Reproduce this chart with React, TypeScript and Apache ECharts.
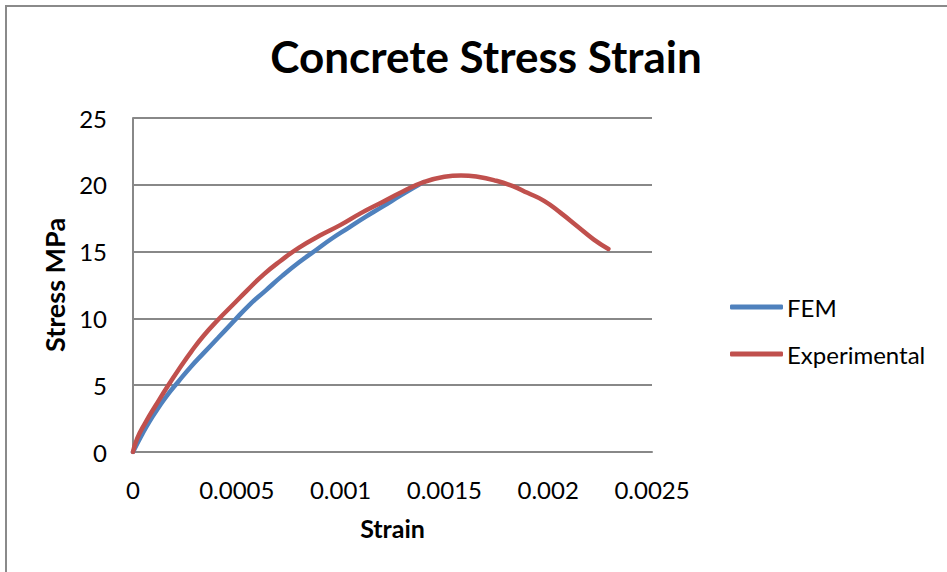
import React, { useEffect, useRef } from "react";
import * as echarts from "echarts";

// Strain (mm/mm) vs stress (MPa) for the finite-element model
const femStrain = [0, 0.00004, 0.00008, 0.00012, 0.00016, 0.00022, 0.00028, 0.00034, 0.00041, 0.00048, 0.00056, 0.00064, 0.00072, 0.0008, 0.00088, 0.00096, 0.00104, 0.00112, 0.0012, 0.0013, 0.0014];
const femStress = [0, 1.2, 2.3, 3.25, 4.15, 5.3, 6.4, 7.4, 8.55, 9.7, 11.0, 12.1, 13.2, 14.2, 15.1, 16.0, 16.8, 17.6, 18.35, 19.3, 20.2];

// Measured test curve
const expStrain = [0, 0.00002, 0.00006, 0.00011, 0.00017, 0.00023, 0.00028, 0.00034, 0.00041, 0.00048, 0.00055, 0.00063, 0.00071, 0.0008, 0.0009, 0.001, 0.0011, 0.0012, 0.0013, 0.0014, 0.0015, 0.00158, 0.00166, 0.00175, 0.00183, 0.0019, 0.00198, 0.00206, 0.00214, 0.00222, 0.00229];
const expStress = [0, 1.0, 2.2, 3.5, 5.0, 6.4, 7.5, 8.7, 9.9, 11.0, 12.1, 13.3, 14.3, 15.3, 16.2, 17.0, 17.9, 18.7, 19.5, 20.2, 20.6, 20.7, 20.6, 20.3, 19.9, 19.4, 18.8, 17.9, 16.9, 15.9, 15.2];

const xTicks = [0, 0.0005, 0.001, 0.0015, 0.002, 0.0025];
const yTicks = [0, 5, 10, 15, 20, 25];

const FONT = "Lato, 'Noto Sans', sans-serif";
const GRID_COLOR = "#888888";

export default function App() {
  const ref = useRef<HTMLDivElement>(null);

  useEffect(() => {
    if (!ref.current) return;
    const chart = echarts.init(ref.current, undefined, { renderer: "svg" });
    const pair = (xs: number[], ys: number[]) => xs.map((x, i) => [x, ys[i]]);

    chart.setOption({
      animation: false,
      backgroundColor: "#ffffff",
      graphic: [
        {
          type: "rect",
          shape: { x: 6, y: 6, width: 960, height: 600 },
          style: { fill: "none", stroke: "#8a8a8a", lineWidth: 2 },
          silent: true,
        },
      ],
      title: {
        text: "Concrete Stress Strain",
        left: 481,
        textAlign: "center",
        top: 29,
        textStyle: { fontFamily: FONT, fontWeight: "bold", fontSize: 44, color: "#000" },
      },
      grid: { left: 133, top: 118, width: 519, height: 334, containLabel: false },
      legend: {
        orient: "vertical",
        left: 725,
        top: 290,
        itemGap: 23,
        icon: "roundRect",
        itemWidth: 53,
        itemHeight: 5,
        textStyle: { fontFamily: FONT, fontSize: 24, color: "#000", padding: [0, 0, 0, -1] },
        data: ["FEM", "Experimental"],
      },
      xAxis: {
        type: "value",
        min: xTicks[0],
        max: xTicks[xTicks.length - 1],
        interval: xTicks[1] - xTicks[0],
        name: "Strain",
        nameLocation: "middle",
        nameGap: 63,
        nameTextStyle: { fontFamily: FONT, fontWeight: "bold", fontSize: 25, color: "#000" },
        axisLine: { show: true, lineStyle: { color: GRID_COLOR, width: 2 } },
        axisTick: { show: false },
        splitLine: { show: false },
        axisLabel: {
          margin: 25,
          fontFamily: FONT,
          fontSize: 24,
          color: "#000",
          formatter: (v: number) => String(v),
        },
      },
      yAxis: {
        type: "value",
        min: yTicks[0],
        max: yTicks[yTicks.length - 1],
        interval: yTicks[1] - yTicks[0],
        name: "Stress MPa",
        nameLocation: "middle",
        nameGap: 63,
        nameTextStyle: { fontFamily: FONT, fontWeight: "bold", fontSize: 27, color: "#000" },
        axisLine: { show: true, lineStyle: { color: GRID_COLOR, width: 2 } },
        axisTick: { show: false },
        splitLine: { show: true, lineStyle: { color: GRID_COLOR, width: 2 } },
        axisLabel: { margin: 26, fontFamily: FONT, fontSize: 24, color: "#000" },
      },
      series: [
        {
          name: "FEM",
          type: "line",
          data: pair(femStrain, femStress),
          smooth: true,
          showSymbol: false,
          symbol: "none",
          lineStyle: { color: "#4F81BD", width: 4.5, cap: "round" },
          itemStyle: { color: "#4F81BD" },
        },
        {
          name: "Experimental",
          type: "line",
          data: pair(expStrain, expStress),
          smooth: true,
          showSymbol: false,
          symbol: "none",
          lineStyle: { color: "#C0504D", width: 4.5, cap: "round" },
          itemStyle: { color: "#C0504D" },
        },
      ],
    });

    return () => chart.dispose();
  }, []);

  return <div ref={ref} style={{ width: 947, height: 572, position: "absolute", left: 0, top: 0 }} />;
}
